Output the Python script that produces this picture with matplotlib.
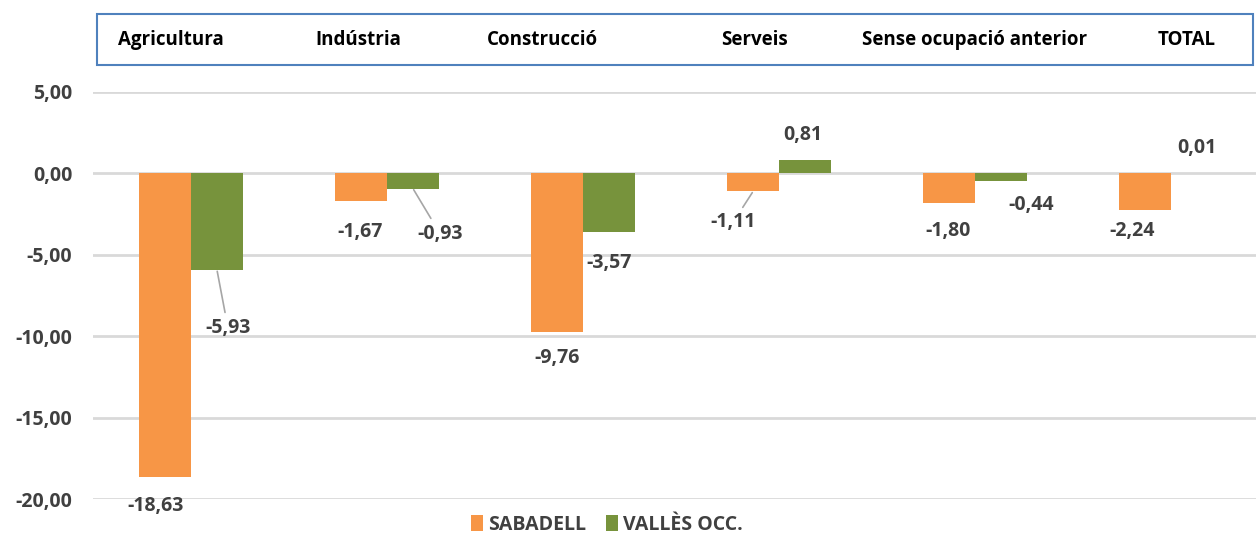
#!/usr/bin/env python3
"""Variació per sectors: Sabadell vs Vallès Occidental (bar chart)"""
import matplotlib
matplotlib.use('Agg')
import matplotlib.pyplot as plt
from matplotlib.patches import Rectangle, Patch
import numpy as np

plt.rcParams['font.family'] = ['Open Sans', 'DejaVu Sans']
plt.rcParams['font.weight'] = 'bold'

# data
sectors = ['Agricultura', 'Indústria', 'Construcció', 'Serveis',
           'Sense ocupació anterior', 'TOTAL']
sabadell = [-18.63, -1.67, -9.76, -1.11, -1.80, -2.24]
valles = [-5.93, -0.93, -3.57, 0.81, -0.44, 0.01]
series_names = ['SABADELL', 'VALLÈS OCC.']
yticks = [5, 0, -5, -10, -15, -20]

ORANGE = '#F79646'
GREEN = '#77933C'
TEXT = '#404040'
GRID = '#D9D9D9'
LEADER = '#A6A6A6'
FS = 14

W, H = 1256, 535
fig = plt.figure(figsize=(W / 100, H / 100), dpi=100)

# plot area in pixels: x 93..1269 (runs off the right edge), y 92..499
px0, px1, py0, py1 = 93, 1269, 92, 499
ax = fig.add_axes([px0 / W, 1 - py1 / H, (px1 - px0) / W, (py1 - py0) / H])

x = np.arange(len(sectors))
bw = 0.265
ax.bar(x - bw / 2, sabadell, bw, color=ORANGE, zorder=3)
ax.bar(x + bw / 2, valles, bw, color=GREEN, zorder=3)

ax.set_xlim(-0.5, len(sectors) - 0.5)
ax.set_ylim(-20, 5)
ax.set_yticks(yticks)
ax.set_yticklabels([f'{t:.2f}'.replace('.', ',') for t in yticks],
                   fontsize=FS, color=TEXT, fontweight='bold')
ax.tick_params(axis='y', length=0, pad=15)
ax.set_xticks([])
ax.grid(axis='y', color=GRID, linewidth=2, zorder=0)
for s in ax.spines.values():
    s.set_visible(False)

# data labels: offsets in pixels (dx, dy; dy positive = down), leader lines
sab_off = [(-9, 29), (-1, 31), (0, 26), (-20, 31), (-1, 28), (-13, 21)]
val_off = [(11, 58), (27, 45), (0, 31), (-2, -25), (30, 24), (0, -25)]
sab_lead = [False, False, False, True, False, False]
val_lead = [True, True, False, False, False, False]


def fmt(v):
    return f'{v:.2f}'.replace('.', ',')


def put_labels(xs, vals, offs, leads):
    for xi, v, (dx, dy), lead in zip(xs, vals, offs, leads):
        kw = {}
        if lead:
            kw['arrowprops'] = dict(arrowstyle='-', color=LEADER, lw=1.2,
                                    shrinkA=2, shrinkB=1)
        ax.annotate(fmt(v), xy=(xi, v), xytext=(dx, -dy),
                    textcoords='offset pixels', ha='center', va='center',
                    fontsize=FS, fontweight='bold', color=TEXT,
                    zorder=4, annotation_clip=False, **kw)


put_labels(x - bw / 2, sabadell, sab_off, sab_lead)
put_labels(x + bw / 2, valles, val_off, val_lead)

# header box with category names
fig.patches.append(Rectangle((97 / W, 1 - 65 / H), (1253 - 97) / W, (65 - 14) / H,
                             transform=fig.transFigure, facecolor='white',
                             edgecolor='#4F81BD', linewidth=1.5))
head_x = [171, 358, 542, 755, 975, 1187]
for name, hx in zip(sectors, head_x):
    fig.text(hx / W, 1 - 40 / H, name, ha='center', va='center',
             fontsize=13.5, fontweight='bold', color='black')

# legend
handles = [Patch(facecolor=ORANGE), Patch(facecolor=GREEN)]
fig.legend(handles, series_names, loc='center', ncol=2, frameon=False,
           bbox_to_anchor=(607 / W, 1 - 525 / H), handlelength=0.6,
           handleheight=0.9, handletextpad=0.3, columnspacing=1.0,
           prop={'size': FS, 'weight': 'bold'}, labelcolor=TEXT)

fig.savefig('out.png', dpi=100)
print('Wrote out.png')
